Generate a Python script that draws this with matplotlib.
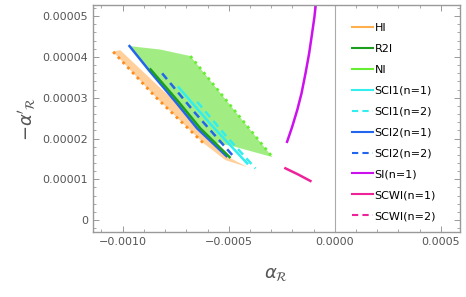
import matplotlib.pyplot as plt
from matplotlib.ticker import MultipleLocator, FixedLocator

# data (alpha_R, -alpha'_R)
sci2_n1_x = [-0.000968, -0.000877, -0.000751, -0.000649, -0.000511]
sci2_n1_y = [4.265e-5, 3.677e-5, 2.900e-5, 2.248e-5, 1.569e-5]

r2i_x = [-0.000869, -0.000737, -0.000634, -0.000496]
r2i_y = [3.694e-5, 2.900e-5, 2.248e-5, 1.544e-5]

sci2_n2_x = [-0.000814, -0.000657, -0.000476]
sci2_n2_y = [3.596e-5, 2.616e-5, 1.552e-5]

sci1_n1_x = [-0.000736, -0.000586, -0.000413]
sci1_n1_y = [3.252e-5, 2.353e-5, 1.390e-5]

sci1_n2_x = [-0.000649, -0.000516, -0.000374]
sci1_n2_y = [2.900e-5, 2.083e-5, 1.267e-5]

si_x = [-0.000225, -0.000201, -0.000177, -0.000157, -0.000138, -0.000121,
        -0.000107, -0.000096, -0.000090, -0.000082]
si_y = [1.92e-5, 2.287e-5, 2.70e-5, 3.105e-5, 3.60e-5, 4.086e-5,
        4.58e-5, 4.98e-5, 5.27e-5, 5.6e-5]

scwi_n1_x = [-0.000233, -0.000175, -0.000115]
scwi_n1_y = [1.27e-5, 1.125e-5, 0.96e-5]

# HI region: dotted lower edge + filled band up to SCI2(n=1)
hi_edge_x = [-0.001045, -0.000846, -0.000618]
hi_edge_y = [4.125e-5, 3.022e-5, 1.880e-5]
hi_upper_x = [-0.001045, -0.001012, -0.000812, -0.000751, -0.000649, -0.000511, -0.000412]
hi_upper_y = [4.125e-5, 4.167e-5, 3.186e-5, 2.900e-5, 2.248e-5, 1.569e-5, 1.299e-5]
hi_lower_x = [-0.000412, -0.000516, -0.000618, -0.000846]
hi_lower_y = [1.299e-5, 1.471e-5, 1.880e-5, 3.022e-5]

# NI region: top edge, dotted right edge, bottom, back along SCI2(n=1)
ni_top_x = [-0.000968, -0.000822, -0.000681]
ni_top_y = [4.265e-5, 4.179e-5, 4.020e-5]
ni_edge_x = [-0.000681, -0.000294]
ni_edge_y = [4.020e-5, 1.544e-5]
ni_bottom_x = [-0.000294, -0.000483, -0.000560]
ni_bottom_y = [1.544e-5, 1.814e-5, 1.900e-5]

c_hi = '#FFB04D'
c_hi_dot = '#FF8C1A'
c_r2i = '#1E9E1E'
c_ni = '#66EE33'
c_sci1 = '#33EEEE'
c_sci2 = '#2266EE'
c_si = '#CC11EE'
c_scwi = '#EE2299'

plt.rcParams['font.family'] = 'DejaVu Sans'
fig = plt.figure(figsize=(4.66, 2.97), dpi=100)
ax = fig.add_axes([0.1996, 0.2189, 0.7874, 0.7641])

# filled regions
ax.fill(hi_upper_x + hi_lower_x, hi_upper_y + hi_lower_y, color='#FFCF9C', lw=0)
ni_poly_x = ni_top_x + ni_edge_x[1:] + ni_bottom_x[1:] + sci2_n1_x[3::-1]
ni_poly_y = ni_top_y + ni_edge_y[1:] + ni_bottom_y[1:] + sci2_n1_y[3::-1]
ax.fill(ni_poly_x, ni_poly_y, color='#98EC76', alpha=0.9, lw=0)

ax.plot(hi_edge_x, hi_edge_y, color=c_hi_dot, lw=2, ls=(0, (1, 1.5)))
ax.plot(ni_edge_x, ni_edge_y, color=c_ni, lw=2, ls=(0, (1, 1.5)))

ax.plot(sci2_n1_x, sci2_n1_y, color=c_sci2, lw=1.8)
ax.plot(r2i_x, r2i_y, color=c_r2i, lw=1.8)
ax.plot(sci2_n2_x, sci2_n2_y, color=c_sci2, lw=1.8, ls=(0, (3, 2)))
ax.plot(sci1_n1_x, sci1_n1_y, color=c_sci1, lw=1.8)
ax.plot(sci1_n2_x, sci1_n2_y, color=c_sci1, lw=1.8, ls=(0, (3, 2)))
ax.plot(si_x, si_y, color=c_si, lw=1.8)
ax.plot(scwi_n1_x, scwi_n1_y, color=c_scwi, lw=1.8)

# legend entries
handles = [
    plt.Line2D([], [], color=c_hi, lw=1.5),
    plt.Line2D([], [], color=c_r2i, lw=1.5),
    plt.Line2D([], [], color=c_ni, lw=1.5),
    plt.Line2D([], [], color=c_sci1, lw=1.5),
    plt.Line2D([], [], color=c_sci1, lw=1.5, ls=(0, (3, 2))),
    plt.Line2D([], [], color=c_sci2, lw=1.5),
    plt.Line2D([], [], color=c_sci2, lw=1.5, ls=(0, (3, 2))),
    plt.Line2D([], [], color=c_si, lw=1.5),
    plt.Line2D([], [], color=c_scwi, lw=1.5),
    plt.Line2D([], [], color=c_scwi, lw=1.5, ls=(0, (3, 2))),
]
labels = ['HI', 'R2I', 'NI', 'SCI1(n=1)', 'SCI1(n=2)', 'SCI2(n=1)',
          'SCI2(n=2)', 'SI(n=1)', 'SCWI(n=1)', 'SCWI(n=2)']
ax.legend(handles, labels, loc='upper left', bbox_to_anchor=(0.693, 0.94),
          frameon=False, fontsize=8, handlelength=1.9, handletextpad=0.15,
          labelspacing=0.98, borderaxespad=0)

ax.axvline(0, color='#aaaaaa', lw=0.8)

ax.set_xlim(-0.00114, 0.00059)
ax.set_ylim(-2.9e-6, 5.27e-5)

ax.xaxis.set_major_locator(FixedLocator([-0.0010, -0.0005, 0.0, 0.0005]))
ax.xaxis.set_minor_locator(MultipleLocator(0.0001))
ax.yaxis.set_major_locator(FixedLocator([0, 1e-5, 2e-5, 3e-5, 4e-5, 5e-5]))
ax.yaxis.set_minor_locator(MultipleLocator(2e-6))
ax.set_xticklabels(['\u22120.0010', '\u22120.0005', '0.0000', '0.0005'])
ax.set_yticklabels(['0', '0.00001', '0.00002', '0.00003', '0.00004', '0.00005'])

for s in ax.spines.values():
    s.set_color('#999999')
    s.set_linewidth(1.0)
ax.tick_params(which='both', direction='in', top=True, right=True,
               color='#999999', labelcolor='#555555', labelsize=8)
ax.tick_params(which='major', length=4, width=0.7)
ax.tick_params(which='minor', length=2, width=0.6)

ax.set_xlabel(r'$\alpha_{\mathcal{R}}$', fontsize=13, color='#555555', labelpad=13)
ax.set_ylabel(r"$-\alpha'_{\mathcal{R}}$", fontsize=13, color='#555555', labelpad=3)

fig.savefig('out.png', dpi=100)
